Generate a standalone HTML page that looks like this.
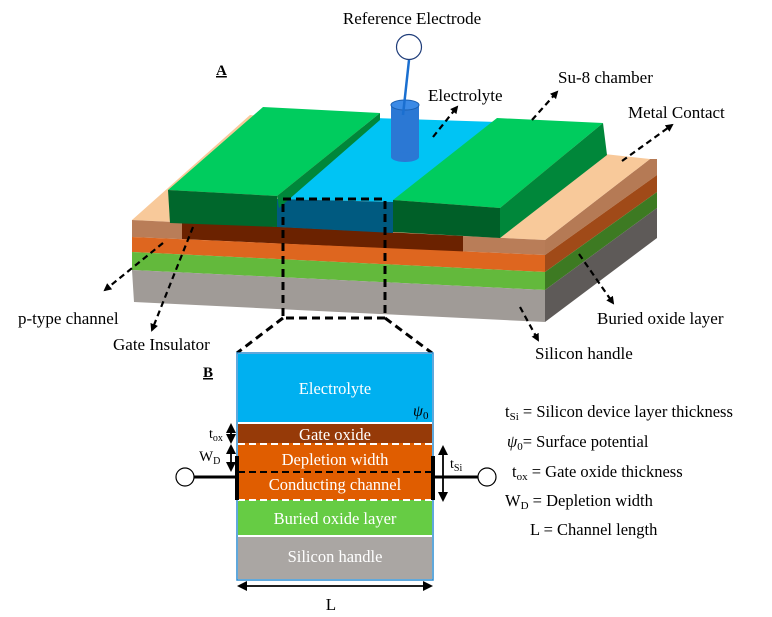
<!DOCTYPE html>
<html><head><meta charset="utf-8"><style>
html,body{margin:0;padding:0;background:#fff}
svg{display:block}
text{font-family:"Liberation Serif",serif}
</style></head><body>
<svg width="772" height="617" viewBox="0 0 772 617" xmlns="http://www.w3.org/2000/svg">
<defs>
<marker id="ah" markerWidth="8" markerHeight="8" refX="6" refY="4" orient="auto" markerUnits="userSpaceOnUse"><path d="M0,0 L8,4 L0,8 z" fill="#000"/></marker>
<marker id="a2" markerWidth="10" markerHeight="10" refX="8" refY="5" orient="auto-start-reverse" markerUnits="userSpaceOnUse"><path d="M0,0 L10,5 L0,10 z" fill="#000"/></marker>
</defs>
<text x="412" y="24" font-size="17" text-anchor="middle">Reference Electrode</text>
<text x="216" y="75" font-size="15" font-weight="bold" text-decoration="underline">A</text>

<!-- base stack right side -->
<polygon points="545,240 650,159 657,159 657,175 545,255" fill="#b57a55"/>
<polygon points="545,255 657,175 657,192 545,272" fill="#a04a18"/>
<polygon points="545,272 657,192 657,208 545,290" fill="#3d7a22"/>
<polygon points="545,290 657,208 657,238 545,322" fill="#5e5a58"/>
<!-- tan top -->
<polygon points="132,220 250,115 650,159 545,240" fill="#f8c99a"/>
<!-- front faces -->
<polygon points="132,220 545,240 545,255 132,237" fill="#b97d58"/>
<polygon points="182,222 463,236 463,252 182,239" fill="#6b2200"/>
<polygon points="132,237 545,255 545,272 132,252" fill="#de661f"/>
<polygon points="132,252 545,272 545,290 132,270" fill="#63b93c"/>
<polygon points="132,270 545,290 545,322 134,302" fill="#a09b97"/>
<!-- electrolyte -->
<polygon points="277,199 375,118 497,122 393,202" fill="#00c4f4"/>
<polygon points="277,199 393,202 393,233 277,227" fill="#005a80"/>
<!-- left green block -->
<polygon points="168,190 263,107 380,113 277,196" fill="#00cc5e"/>
<polygon points="277,196 380,113 380,120 279,208" fill="#00873a"/>
<polygon points="168,190 277,196 277,227 170,223" fill="#00672c"/>
<!-- right green block -->
<polygon points="393,200 497,118 603,123 500,208" fill="#00cc5e"/>
<polygon points="500,208 603,123 607,155 500,238" fill="#00873a"/>
<polygon points="393,200 500,208 500,238 393,232" fill="#005f28"/>
<!-- electrode -->
<rect x="391" y="105" width="28" height="52" fill="#2b78d4"/>
<ellipse cx="405" cy="157" rx="14" ry="5" fill="#2b78d4"/>
<ellipse cx="405" cy="105" rx="14" ry="5" fill="#3b8ae6" stroke="#1a5fb0"/>
<line x1="409" y1="60" x2="403" y2="115" stroke="#1a6fd0" stroke-width="2.5"/>
<circle cx="409" cy="47" r="12.5" fill="#fff" stroke="#1f3d7a" stroke-width="1.2"/>
<!-- dashed box -->
<g stroke="#000" stroke-width="3" stroke-dasharray="8,5" fill="none">
<rect x="283" y="199" width="102" height="119"/>
<line x1="283" y1="318" x2="237" y2="353"/>
<line x1="385" y1="318" x2="432" y2="353"/>
</g>
<!-- label arrows -->
<g stroke="#000" stroke-width="2.2" stroke-dasharray="6,4" fill="none" marker-end="url(#ah)">
<line x1="433" y1="137" x2="457" y2="107"/>
<line x1="532" y1="120" x2="557" y2="92"/>
<line x1="622" y1="161" x2="672" y2="125"/>
<line x1="163" y1="243" x2="105" y2="290"/>
<line x1="193" y1="227" x2="152" y2="330"/>
<line x1="579" y1="254" x2="613" y2="303"/>
<line x1="520" y1="307" x2="538" y2="340"/>
</g>
<text x="428" y="101" font-size="17">Electrolyte</text>
<text x="558" y="83" font-size="17">Su-8 chamber</text>
<text x="628" y="118" font-size="17">Metal Contact</text>
<text x="18" y="324" font-size="17">p-type channel</text>
<text x="113" y="350" font-size="17">Gate Insulator</text>
<text x="597" y="324" font-size="17">Buried oxide layer</text>
<text x="535" y="359" font-size="17">Silicon handle</text>

<!-- Panel B -->
<text x="203" y="377" font-size="15" font-weight="bold" text-decoration="underline">B</text>
<rect x="237" y="353" width="196" height="227" fill="#fff" stroke="#2b8cd0" stroke-width="1.5"/>
<rect x="238" y="354" width="194" height="68" fill="#00b0f0"/>
<rect x="238" y="424" width="194" height="19" fill="#963a08"/>
<rect x="238" y="443" width="194" height="57" fill="#e05d00"/>
<rect x="238" y="500" width="194" height="35" fill="#66cc44"/>
<rect x="238" y="537" width="194" height="42" fill="#aaa6a3"/>
<line x1="238" y1="444" x2="432" y2="444" stroke="#fff" stroke-width="2" stroke-dasharray="7,4"/>
<line x1="238" y1="472" x2="432" y2="472" stroke="#000" stroke-width="2" stroke-dasharray="7,4"/>
<line x1="238" y1="500" x2="432" y2="500" stroke="#fff" stroke-width="2" stroke-dasharray="7,4"/>
<g fill="#fff" font-size="16.5" text-anchor="middle">
<text x="335" y="394">Electrolyte</text>
<text x="335" y="440">Gate oxide</text>
<text x="335" y="465">Depletion width</text>
<text x="335" y="490">Conducting channel</text>
<text x="335" y="524">Buried oxide layer</text>
<text x="335" y="562">Silicon handle</text>
</g>
<text x="413" y="416" font-size="16" font-style="italic">ψ<tspan font-size="11" font-style="normal" dy="3">0</tspan></text>
<!-- contacts -->
<line x1="237" y1="456" x2="237" y2="500" stroke="#000" stroke-width="4"/>
<line x1="433" y1="456" x2="433" y2="500" stroke="#000" stroke-width="4"/>
<line x1="194" y1="477" x2="237" y2="477" stroke="#000" stroke-width="3"/>
<line x1="433" y1="477" x2="478" y2="477" stroke="#000" stroke-width="3"/>
<circle cx="185" cy="477" r="9" fill="#fff" stroke="#000" stroke-width="1.2"/>
<circle cx="487" cy="477" r="9" fill="#fff" stroke="#000" stroke-width="1.2"/>
<g stroke="#000" stroke-width="1.8" marker-start="url(#a2)" marker-end="url(#a2)">
<line x1="231" y1="425" x2="231" y2="442"/>
<line x1="231" y1="446" x2="231" y2="470"/>
<line x1="443" y1="447" x2="443" y2="500"/>
<line x1="239" y1="586" x2="431" y2="586"/>
</g>
<text x="209" y="438" font-size="14">t<tspan font-size="10" dy="3">ox</tspan></text>
<text x="199" y="461" font-size="15">W<tspan font-size="10" dy="3">D</tspan></text>
<text x="450" y="468" font-size="14">t<tspan font-size="10" dy="3">Si</tspan></text>
<text x="331" y="610" font-size="17" text-anchor="middle">L</text>

<g font-size="16.5">
<text x="505" y="417">t<tspan font-size="11" dy="3">Si</tspan><tspan dy="-3"> = Silicon device layer thickness</tspan></text>
<text x="507" y="447"><tspan font-style="italic">ψ</tspan><tspan font-size="11" dy="3">0</tspan><tspan dy="-3">= Surface potential</tspan></text>
<text x="512" y="477">t<tspan font-size="11" dy="3">ox</tspan><tspan dy="-3"> = Gate oxide thickness</tspan></text>
<text x="505" y="506">W<tspan font-size="11" dy="3">D</tspan><tspan dy="-3"> = Depletion width</tspan></text>
<text x="530" y="535">L = Channel length</text>
</g>
</svg>
</body></html>
